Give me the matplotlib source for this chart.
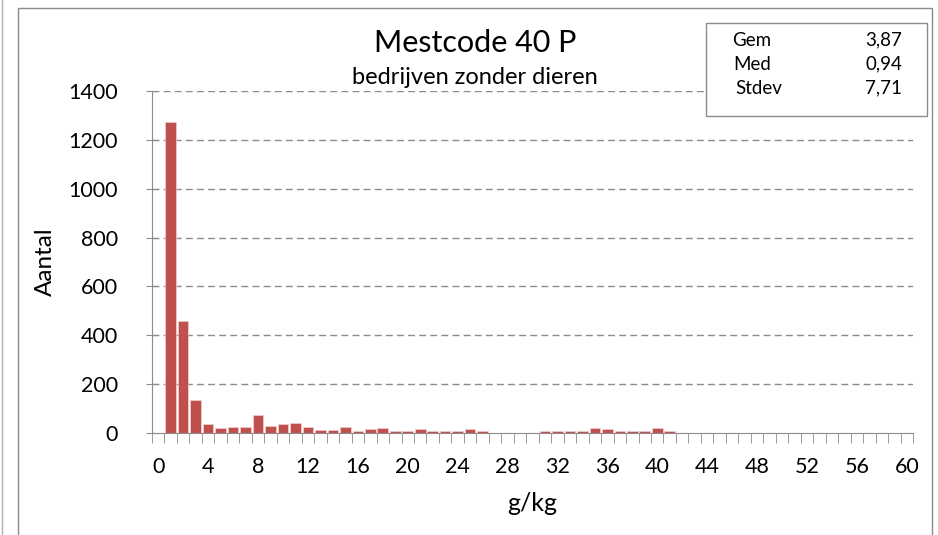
import numpy as np
import matplotlib
matplotlib.use("Agg")
import matplotlib.pyplot as plt
from matplotlib.patches import Rectangle

plt.rcParams['font.family'] = ['Lato', 'DejaVu Sans']

# histogram counts per g/kg class (0..60)
categories = list(range(61))
counts = [0, 1274, 460, 135, 37, 19, 24, 24, 75, 30,
          37, 42, 24, 14, 14, 24, 8, 15, 20, 8,
          8, 15, 8, 8, 8, 15, 8, 0, 0, 0,
          0, 8, 8, 8, 8, 20, 15, 8, 8, 8,
          20, 8] + [0] * 19
tick_labels = [str(v) for v in range(0, 61, 4)]
stat_names = ["Gem", "Med", "Stdev"]
stat_values = ["3,87", "0,94", "7,71"]

W, H = 938, 535
fig = plt.figure(figsize=(W / 100, H / 100), dpi=100)
grey = '#8c8c8c'

def fx(px):
    return px / W

def fy(py):
    return 1 - py / H

# chart area border
fig.patches.append(Rectangle((fx(18), -0.02), fx(932) - fx(18), fy(8) + 0.02,
                             transform=fig.transFigure, fill=False,
                             edgecolor=grey, lw=1))
fig.add_artist(plt.Line2D([fx(1.5), fx(1.5)], [0, 1], color='#b0b0b0', lw=1))

ax = fig.add_axes([fx(152), fy(433), fx(913) - fx(152), fy(91) - fy(433)])
ax.bar(categories, counts, width=0.85, color='#C0504D', edgecolor='#f2d0cf',
       linewidth=0.5, zorder=3)

ax.set_xlim(-0.5, 60.5)
ax.set_ylim(0, 1400)
ax.set_xticks(range(0, 61, 4))
ax.set_xticklabels(tick_labels)
ax.set_xticks(np.arange(-0.5, 61, 1), minor=True)
ax.tick_params(axis='x', which='major', length=0, labelsize=15.5, pad=17)
ax.tick_params(axis='x', which='minor', length=7, color=grey, direction='out')
ax.set_yticks(range(0, 1401, 200))
ax.tick_params(axis='y', length=9, direction='inout', color=grey, labelsize=15.5, pad=20)

for y in range(200, 1401, 200):
    ax.axhline(y, color=grey, lw=1, ls=(0, (5, 3)), zorder=1)

for s in ['top', 'right']:
    ax.spines[s].set_visible(False)
for s in ['left', 'bottom']:
    ax.spines[s].set_color(grey)
    ax.spines[s].set_zorder(4)

ax.set_xlabel("g/kg", fontsize=18)
ax.xaxis.set_label_coords(0.5, (433 - 492) / 342)
ax.set_ylabel("Aantal", fontsize=17.5)
ax.yaxis.set_label_coords((56 - 152) / 761, 0.5)

fig.text(fx(475), fy(43), "Mestcode 40 P", fontsize=22, ha='center', va='center')
fig.text(fx(475), fy(77), "bedrijven zonder dieren", fontsize=17, ha='center', va='center')

# statistics box
fig.patches.append(Rectangle((fx(706), fy(116)), fx(927) - fx(706), fy(23) - fy(116),
                             transform=fig.transFigure, facecolor='white',
                             edgecolor=grey, lw=1, zorder=5))
for i, (n, v) in enumerate(zip(stat_names, stat_values)):
    yy = fy(40 + i * 24)
    fig.text(fx(732 + i * 1.5), yy, n, fontsize=13.5, ha='left', va='center', zorder=6)
    fig.text(fx(902), yy, v, fontsize=13.5, ha='right', va='center', zorder=6)

fig.savefig("out.png", dpi=100)
